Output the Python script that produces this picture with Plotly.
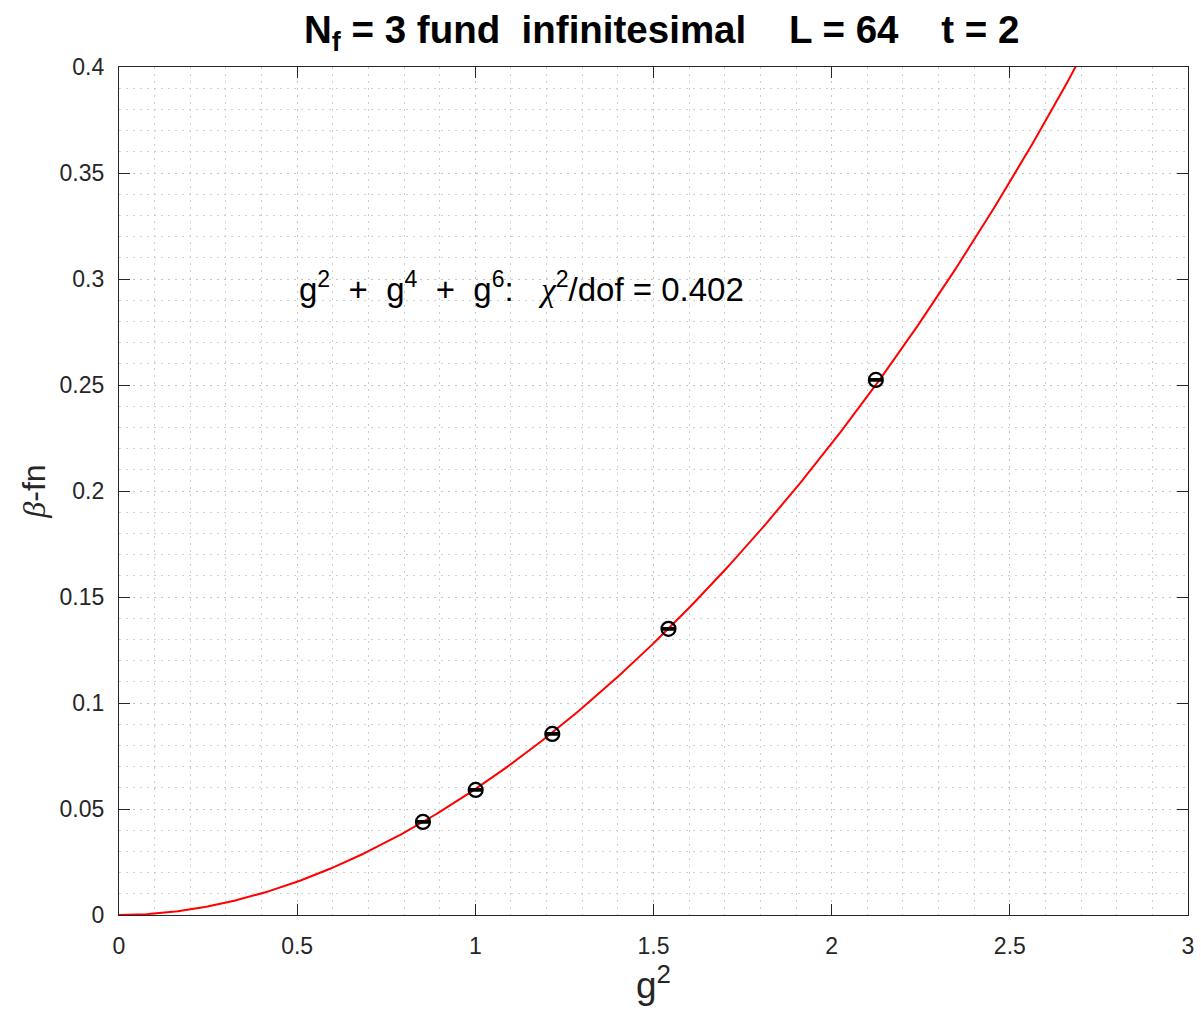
import numpy as np
import plotly.graph_objects as go

# measured beta-function points (x = g^2)
g2_data = [0.853, 1.001, 1.216, 1.542, 2.124]
beta_data = [0.0439, 0.0590, 0.0854, 0.1350, 0.2524]
beta_err = [0.0004, 0.0004, 0.0004, 0.0004, 0.0004]

# fit coefficients: beta = c2*u^2 + c3*u^3 + c4*u^4, u = g^2
fit_coeffs = [0.06746, -0.010234, 0.002152]
chi2_dof = 0.402

u = np.linspace(0, 3, 400)
beta_fit = u**2 * (fit_coeffs[0] + fit_coeffs[1] * u + fit_coeffs[2] * u**2)

FONT = "Liberation Sans, Arial, Helvetica, sans-serif"
SERIF = "Liberation Serif, Times New Roman, serif"
AX = "#262626"
NB = "\u00a0"
GRID_DASH = "2px,5px"

fig = go.Figure()
fig.add_trace(go.Scatter(
    x=u, y=beta_fit, mode="lines",
    line=dict(color="#ff0000", width=2), hoverinfo="skip", showlegend=False,
))
fig.add_trace(go.Scatter(
    x=g2_data, y=beta_data, mode="markers",
    marker=dict(symbol="circle-open", size=14, color="black", line=dict(width=2.2)),
    error_y=dict(type="data", array=beta_err, color="black", thickness=2, width=7),
    showlegend=False,
))

PLUS = NB * 2 + "+" + NB * 2
fig.add_annotation(
    x=0.5, y=0.296, xref="x", yref="y", xanchor="left", yanchor="middle",
    showarrow=False,
    text=("g<sup>2</sup>" + PLUS + "g<sup>4</sup>" + PLUS
          + "g<sup>6</sup>:" + NB * 3
          + f"<span style='font-family:{SERIF}'><i>χ</i></span><sup>2</sup>/dof = {chi2_dof}"),
    font=dict(family=FONT, size=33, color="black"),
)

title = ("<b>N<sub>f</sub> = 3 fund" + NB + NB + "infinitesimal" + NB * 4
         + "L = 64" + NB * 4 + "t = 2</b>")

fig.update_layout(
    width=1201, height=1013,
    margin=dict(l=119, r=7, t=67, b=98),
    paper_bgcolor="white", plot_bgcolor="white",
    title=dict(text=title, x=0.551, xanchor="center", y=0.971, yanchor="middle",
               font=dict(family=FONT, size=38.5, color="black")),
    xaxis=dict(
        range=[0, 3], dtick=0.5, tick0=0,
        showline=True, linecolor=AX, linewidth=1.2, mirror="ticks",
        ticks="inside", ticklen=11, tickcolor=AX, tickwidth=1.2,
        showgrid=True, gridcolor="#c4c4c4", griddash=GRID_DASH, gridwidth=1,
        minor=dict(dtick=0.1, showgrid=True, gridcolor="#cfcfcf", griddash=GRID_DASH, ticks=""),
        zeroline=False, ticklabelstandoff=10,
        tickfont=dict(family=FONT, size=23, color=AX),
        title=dict(text="g<sup>2</sup>", font=dict(family=FONT, size=37, color=AX), standoff=14),
    ),
    yaxis=dict(
        range=[0, 0.4], dtick=0.05, tick0=0,
        showline=True, linecolor=AX, linewidth=1.2, mirror="ticks",
        ticks="inside", ticklen=11, tickcolor=AX, tickwidth=1.2,
        showgrid=True, gridcolor="#c4c4c4", griddash=GRID_DASH, gridwidth=1,
        minor=dict(dtick=0.01, showgrid=True, gridcolor="#cfcfcf", griddash=GRID_DASH, ticks=""),
        zeroline=False, ticklabelstandoff=9,
        tickfont=dict(family=FONT, size=23, color=AX),
        title=dict(text=f"<span style='font-family:{SERIF}'><i>β</i></span>-fn",
                   font=dict(family=FONT, size=32, color=AX), standoff=4),
    ),
)

fig.write_html("out.html")
